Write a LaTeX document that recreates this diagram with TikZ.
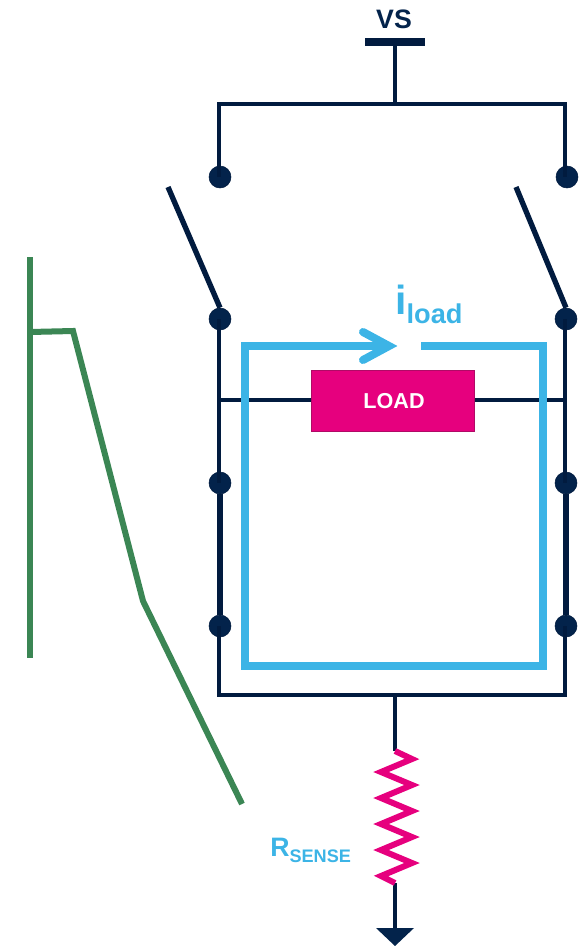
\documentclass[tikz,border=0pt]{standalone}
\usepackage{fontspec}
\setmainfont{Liberation Sans}
\usetikzlibrary{arrows.meta, calc, positioning}
\definecolor{stnavy}{HTML}{03234B}
\definecolor{stwire}{HTML}{011B3F}
\definecolor{stblue}{HTML}{3CB4E6}
\definecolor{stpink}{HTML}{E6007E}
\definecolor{stpinkdark}{HTML}{B00A66}
\definecolor{stgreen}{HTML}{3B8654}

\begin{document}
\begin{tikzpicture}[
  x=0.75pt, y=-0.75pt,
  wire/.style={draw=stwire, line width=3pt},
  heavywire/.style={draw=stwire, line width=3.8pt},
  blade/.style={draw=stwire, line width=4pt},
  dot/.style={circle, fill=stnavy, draw=stwire, line width=0.4pt, inner sep=0pt, minimum size=16.5pt},
  loadbox/.style={draw=stpinkdark, fill=stpink, line width=1pt, minimum width=122pt, minimum height=45.5pt, inner sep=0pt, text=white, font=\fontsize{16.2}{18}\bfseries},
  current/.style={draw=stblue, line width=6pt},
  probe/.style={draw=stgreen, line width=4.5pt},
  tag/.style={inner sep=0pt, text=stblue, font=\bfseries}
]
\useasboundingbox (0,0) rectangle (585,946);

% Supply
\node[inner sep=0pt, text=stnavy, font=\fontsize{20}{22}\bfseries] (vs) at (394,19) {VS};
\node[fill=stwire, inner sep=0pt, minimum width=45pt, minimum height=6pt] (rail) at (395,42) {};
\coordinate (bustop) at (395,104);
\coordinate (busl) at (219,104);
\coordinate (busr) at (565,104);

% Contacts
\node[dot] (tl) at (220,177) {};
\node[dot] (tr) at (567,177) {};
\node[dot] (ul) at (220,319) {};
\node[dot] (ur) at (566,319) {};
\node[dot] (ml) at (220,483) {};
\node[dot] (mr) at (566,483) {};
\node[dot] (ll) at (220,626) {};
\node[dot] (lr) at (566,626) {};

% Switch blades
\coordinate (bladel) at (168,187);
\coordinate (blader) at (516,187);

% Load
\node[loadbox] (load) at (393,401) {\hspace{1.5pt}LOAD};
\coordinate (tapl) at (219,400);
\coordinate (tapr) at (565,400);

% Bottom rail
\coordinate (botl) at (219,695);
\coordinate (botr) at (565,695);
\coordinate (botm) at (395,695);

% Sense resistor
\coordinate (rtop) at (395,751);
\coordinate (rbot) at (395,883);
\coordinate (gnd) at (395,928);

% Wires
\draw[wire] (rail) -- (bustop);
\draw[wire, line cap=rect] (busl) -- (busr);
\draw[wire] (busl) -- (busl |- tl);
\draw[wire] (busr) -- (busr |- tr);
\draw[blade] (bladel) -- (ul.north);
\draw[blade] (blader) -- (ur.north);
\draw[wire] (ul -| busl) -- (ml -| busl);
\draw[wire] (ur -| busr) -- (mr -| busr);
\draw[heavywire] (ml) -- (ll);
\draw[heavywire] (mr) -- (lr);
\draw[wire] (ll -| botl) -- (botl);
\draw[wire] (lr -| botr) -- (botr);
\draw[wire, line cap=rect] (botl) -- (botr);
\draw[wire] (tapl) -- (load.west |- tapl);
\draw[wire] (load.east |- tapr) -- (tapr);
\draw[wire] (botm) -- (rtop);
\draw[wire] (rbot) -- (gnd);
\fill[stnavy] (376,928) -- (414,928) -- (395,946) -- cycle;

% Resistor zigzag
\draw[draw=stpink, line width=4.5pt, miter limit=10] (rtop) -- (412,759) -- (381,772) -- (412,785) -- (381,798) -- (412,811) -- (381,824) -- (412,837) -- (381,850) -- (412,863) -- (381,876) -- (rbot);

% Current loop
\coordinate (loopstart) at (421,346);
\coordinate (looptip) at (389,346);
\draw[current] (loopstart) -- (543,346) -- (543,666) -- (245,666) -- (245,346) -- (looptip);
\draw[draw=stblue, line width=6pt, line cap=round, miter limit=10] (363,332) -- (looptip) -- (363,360);

% Labels
\node[tag, anchor=base west, font=\fontsize{30.5}{32}\bfseries] (iload) at (395,314) {i\raisebox{-6.8pt}{\fontsize{20.4}{22}\bfseries load}};
\node[tag, anchor=base west, font=\fontsize{20}{22}\bfseries] (rsense) at (270,856) {R\raisebox{-4.5pt}{\fontsize{13.6}{15}\bfseries SENSE}};

% Probe trace
\coordinate (probetop) at (30,257);
\coordinate (probebot) at (30,658);
\coordinate (probejoin) at (30,332);
\draw[probe] (probetop) -- (probebot);
\draw[probe] (probejoin) -- (73,331) -- (143,601) -- (242,804);

\end{tikzpicture}
\end{document}
